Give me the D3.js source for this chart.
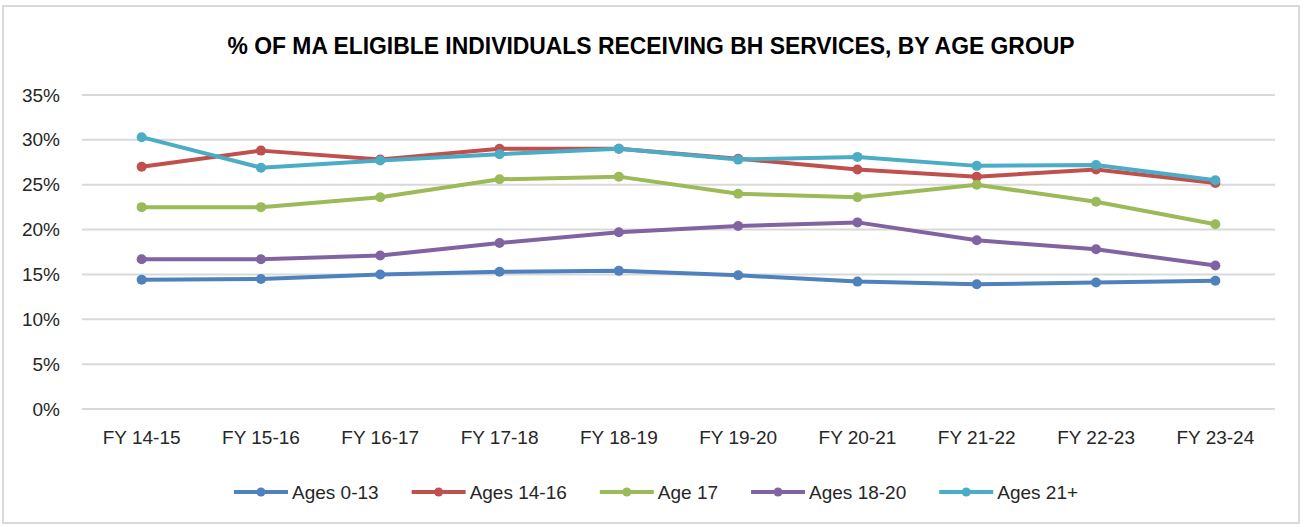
<!DOCTYPE html>
<html>
<head>
<meta charset="utf-8">
<script src="https://cdn.jsdelivr.net/npm/d3@7"></script>
<style>
    body { margin: 0; background: #fff; }
    text { font-family: 'Liberation Sans', Arial, sans-serif; fill: #262626; }
</style>
</head>
<body>
<svg></svg>
<script>
const PLOTTITLE = '% OF MA ELIGIBLE INDIVIDUALS RECEIVING BH SERVICES, BY AGE GROUP';

// fiscal years on the x axis
var years = ['FY 14-15', 'FY 15-16', 'FY 16-17', 'FY 17-18', 'FY 18-19',
    'FY 19-20', 'FY 20-21', 'FY 21-22', 'FY 22-23', 'FY 23-24'];

// percent values per age group
var ages0to13  = [14.4, 14.5, 15.0, 15.3, 15.4, 14.9, 14.2, 13.9, 14.1, 14.3];
var ages14to16 = [27.0, 28.8, 27.8, 29.0, 29.0, 27.9, 26.7, 25.9, 26.7, 25.2];
var age17      = [22.5, 22.5, 23.6, 25.6, 25.9, 24.0, 23.6, 25.0, 23.1, 20.6];
var ages18to20 = [16.7, 16.7, 17.1, 18.5, 19.7, 20.4, 20.8, 18.8, 17.8, 16.0];
var ages21plus = [30.3, 26.9, 27.7, 28.4, 29.0, 27.8, 28.1, 27.1, 27.2, 25.5];

var seriesNames = ['Ages 0-13', 'Ages 14-16', 'Age 17', 'Ages 18-20', 'Ages 21+'];
var yTicks = [0, 5, 10, 15, 20, 25, 30, 35];

var colors = ['#4f81bd', '#c0504d', '#9bbb59', '#8064a2', '#4bacc6'];

var W = 1306, H = 527,
    margin = {top: 95, right: 31, bottom: 118, left: 82},
    width = W - margin.left - margin.right,
    height = H - margin.top - margin.bottom;

var svg = d3.select('svg')
    .attr('width', W)
    .attr('height', H);

// chart frame
svg.append('rect')
    .attr('x', 3).attr('y', 6)
    .attr('width', 1296).attr('height', 517)
    .attr('fill', 'none')
    .attr('stroke', '#d9d9d9')
    .attr('stroke-width', 2);

svg.append('text')
    .attr('x', 651).attr('y', 45)
    .attr('text-anchor', 'middle')
    .attr('dominant-baseline', 'central')
    .attr('textLength', 847)
    .attr('lengthAdjust', 'spacingAndGlyphs')
    .style('font-size', '24px')
    .style('font-weight', 'bold')
    .style('fill', '#000')
    .text(PLOTTITLE);

var chart = svg.append('g')
    .attr('transform', 'translate(' + margin.left + ',' + margin.top + ')');

var x = d3.scaleBand()
    .domain(years)
    .range([0, width]);

var y = d3.scaleLinear()
    .domain([0, 35])
    .range([height, 0]);

// gridlines
chart.append('g')
    .selectAll('line')
    .data(yTicks)
    .enter().append('line')
    .attr('x1', 0).attr('x2', width)
    .attr('y1', function(d) { return y(d); })
    .attr('y2', function(d) { return y(d); })
    .attr('stroke', '#d9d9d9')
    .attr('stroke-width', 2);

var yAxis = chart.append('g')
    .call(d3.axisLeft(y).tickValues(yTicks).tickSize(0).tickPadding(22)
        .tickFormat(function(d) { return d + '%'; }));
yAxis.select('.domain').remove();
yAxis.selectAll('text').style('font-size', '19px').style('fill', '#262626');

var xAxis = chart.append('g')
    .attr('transform', 'translate(0,' + height + ')')
    .call(d3.axisBottom(x).tickSize(0).tickPadding(22));
xAxis.select('.domain').remove();
xAxis.selectAll('text').style('font-size', '19px').style('fill', '#262626');

var data = [ages0to13, ages14to16, age17, ages18to20, ages21plus].map(function(vals, i) {
    return {
        id: seriesNames[i],
        color: colors[i],
        values: vals.map(function(v, j) { return {year: years[j], value: v}; })
    };
});

var line = d3.line()
    .x(function(d) { return x(d.year) + x.bandwidth() / 2; })
    .y(function(d) { return y(d.value); });

var group = chart.selectAll('.series')
    .data(data)
    .enter().append('g')
    .attr('class', 'series');

group.append('path')
    .attr('d', function(d) { return line(d.values); })
    .attr('fill', 'none')
    .attr('stroke', function(d) { return d.color; })
    .attr('stroke-width', 4)
    .attr('stroke-linejoin', 'round');

group.selectAll('circle')
    .data(function(d) { return d.values.map(function(v) { return {v: v, color: d.color}; }); })
    .enter().append('circle')
    .attr('cx', function(d) { return x(d.v.year) + x.bandwidth() / 2; })
    .attr('cy', function(d) { return y(d.v.value); })
    .attr('r', 5)
    .attr('fill', function(d) { return d.color; });

// legend
var legend = svg.append('g');
var lx = 234, ly = 492;
data.forEach(function(d) {
    legend.append('line')
        .attr('x1', lx).attr('x2', lx + 54)
        .attr('y1', ly).attr('y2', ly)
        .attr('stroke', d.color)
        .attr('stroke-width', 4);
    legend.append('circle')
        .attr('cx', lx + 27).attr('cy', ly)
        .attr('r', 4.5)
        .attr('fill', d.color);
    var t = legend.append('text')
        .attr('x', lx + 58).attr('y', ly)
        .attr('dominant-baseline', 'central')
        .style('font-size', '19px')
        .text(d.id);
    lx += 58 + t.node().getComputedTextLength() + 33;
});
</script>
</body>
</html>
